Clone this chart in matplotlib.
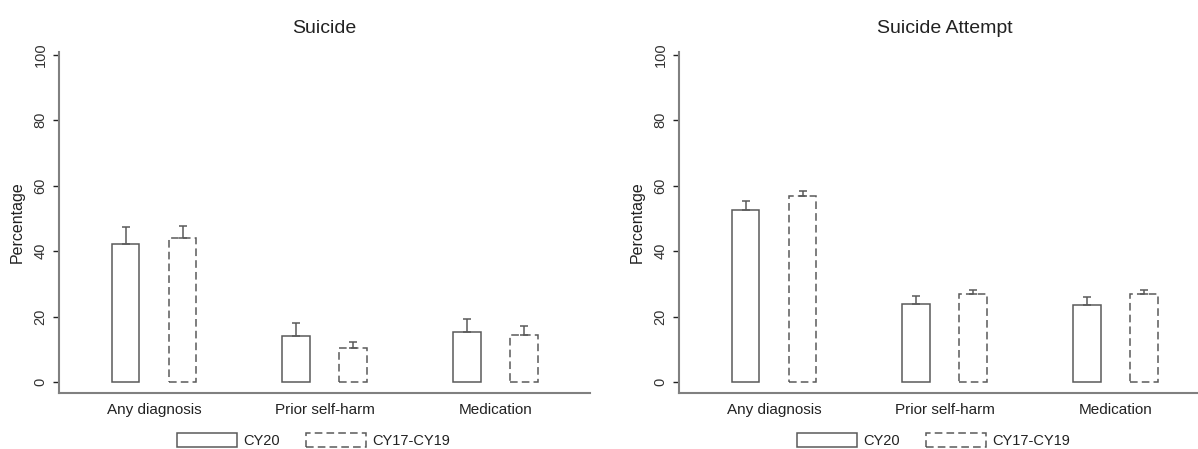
import matplotlib
matplotlib.use('Agg')
import numpy as np
import matplotlib.pyplot as plt

plt.rcParams['font.family'] = ['Liberation Sans', 'DejaVu Sans']

categories = ['Any diagnosis', 'Prior self-harm', 'Medication']
series_names = ['CY20', 'CY17-CY19']

# Suicide panel: bar value and upper end of the error bar
suicide_cy20 = [42.1, 14.0, 15.2]
suicide_cy20_upper = [47.3, 18.1, 19.1]
suicide_base = [44.0, 10.3, 14.5]
suicide_base_upper = [47.6, 12.3, 17.1]

# Suicide attempt panel
attempt_cy20 = [52.4, 23.8, 23.4]
attempt_cy20_upper = [55.3, 26.3, 26.0]
attempt_base = [56.8, 26.8, 26.8]
attempt_base_upper = [58.3, 28.1, 28.1]

yticks = [0, 20, 40, 60, 80, 100]

line_col = '#5a5a5a'
axis_col = '#808080'
text_col = '#222222'

W, H = 1198, 449
fig = plt.figure(figsize=(W / 100, H / 100), dpi=100)
ax1 = fig.add_axes([59 / W, 1 - 393 / H, 531 / W, 341 / H])
ax2 = fig.add_axes([679 / W, 1 - 393 / H, 531 / W, 341 / H])

x = np.arange(len(categories))
width = 0.162
offset = 0.167


def draw_panel(ax, title, cy20, cy20_up, base, base_up):
    b1 = ax.bar(x - offset, cy20, width, facecolor='white', edgecolor=line_col,
                linewidth=1.1, label=series_names[0])
    b2 = ax.bar(x + offset, base, width, facecolor='white', edgecolor=line_col,
                linewidth=1.1, linestyle=(0, (5, 2.7)), label=series_names[1])
    err1 = [np.zeros(len(cy20)), np.array(cy20_up) - np.array(cy20)]
    err2 = [np.zeros(len(base)), np.array(base_up) - np.array(base)]
    ax.errorbar(x - offset, cy20, yerr=err1, fmt='none', ecolor=line_col,
                elinewidth=1.1, capsize=2.9, capthick=1.1)
    ax.errorbar(x + offset, base, yerr=err2, fmt='none', ecolor=line_col,
                elinewidth=1.1, capsize=2.9, capthick=1.1)

    ax.set_xlim(-0.557, 2.555)
    ax.set_ylim(-3.35, 100.8)
    ax.set_yticks(yticks)
    ax.set_yticklabels([str(t) for t in yticks], rotation=90, va='center',
                       fontsize=10.5, color='#333333')
    ax.set_xticks(x)
    ax.set_xticklabels(categories, fontsize=11, color=text_col)
    ax.tick_params(axis='x', length=0, pad=7)
    ax.tick_params(axis='y', length=4.3, width=1, color=text_col, pad=4)
    for s in ['top', 'right']:
        ax.spines[s].set_visible(False)
    for s in ['left', 'bottom']:
        ax.spines[s].set_color(axis_col)
        ax.spines[s].set_linewidth(1.5)
    ax.set_ylabel('Percentage', fontsize=11.5, color=text_col, labelpad=6)
    ax.set_title(title, fontsize=14, color=text_col, pad=14)
    ax.legend(handles=[b1, b2], loc='center', bbox_to_anchor=(0.48, -0.138),
              ncol=2, frameon=False, fontsize=10.5, handlelength=4.1,
              handleheight=1.1, handletextpad=0.45, columnspacing=1.8,
              labelcolor=text_col)


draw_panel(ax1, 'Suicide', suicide_cy20, suicide_cy20_upper,
           suicide_base, suicide_base_upper)
draw_panel(ax2, 'Suicide Attempt', attempt_cy20, attempt_cy20_upper,
           attempt_base, attempt_base_upper)

fig.savefig('out.png', dpi=100)
